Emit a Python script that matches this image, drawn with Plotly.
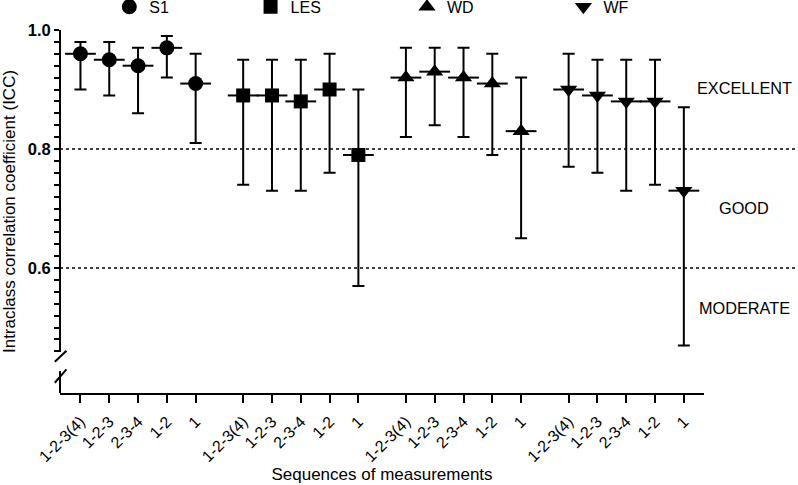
import plotly.graph_objects as go

# ---------------- data ----------------
categories = ["1-2-3(4)", "1-2-3", "2-3-4", "1-2", "1"]
groups = ["S1", "LES", "WD", "WF"]

S1_icc = [0.96, 0.95, 0.94, 0.97, 0.91]
S1_lo = [0.90, 0.89, 0.86, 0.92, 0.81]
S1_hi = [0.98, 0.98, 0.97, 0.99, 0.96]

LES_icc = [0.89, 0.89, 0.88, 0.90, 0.79]
LES_lo = [0.74, 0.73, 0.73, 0.76, 0.57]
LES_hi = [0.95, 0.95, 0.95, 0.96, 0.90]

WD_icc = [0.92, 0.93, 0.92, 0.91, 0.83]
WD_lo = [0.82, 0.84, 0.82, 0.79, 0.65]
WD_hi = [0.97, 0.97, 0.97, 0.96, 0.92]

WF_icc = [0.90, 0.89, 0.88, 0.88, 0.73]
WF_lo = [0.77, 0.76, 0.73, 0.74, 0.47]
WF_hi = [0.96, 0.95, 0.95, 0.95, 0.87]

thresholds = [0.8, 0.6]
zone_labels = ["EXCELLENT", "GOOD", "MODERATE"]
zone_label_y = [0.903, 0.701, 0.533]
y_tick_labels = {0.6: "0.6", 0.8: "0.8", 1.0: "1.0"}

# ---------------- layout helpers ----------------
FONT = "Arial, Liberation Sans, sans-serif"
GAP = 0.65
n = len(categories)
series = [
    ("S1", S1_icc, S1_lo, S1_hi, "circle", 15),
    ("LES", LES_icc, LES_lo, LES_hi, "square", 14),
    ("WD", WD_icc, WD_lo, WD_hi, "triangle-up", 15),
    ("WF", WF_icc, WF_lo, WF_hi, "triangle-down", 15),
]

fig = go.Figure()
all_x, all_text = [], []
legend_x = [0.137, 0.314, 0.510, 0.706]
for g, (name, icc, lo, hi, sym, size) in enumerate(series):
    xs = [g * (n + GAP) + i for i in range(n)]
    all_x += xs
    all_text += categories
    plus = [h - v for h, v in zip(hi, icc)]
    minus = [v - l for v, l in zip(icc, lo)]
    legend_id = "legend" if g == 0 else f"legend{g+1}"
    # mean line + error bars
    fig.add_trace(go.Scatter(
        x=xs, y=icc, mode="markers", showlegend=False, hoverinfo="skip",
        marker=dict(symbol="line-ew", size=22, line=dict(color="black", width=2)),
        error_y=dict(type="data", symmetric=False, array=plus, arrayminus=minus,
                     color="black", thickness=2, width=6),
    ))
    fig.add_trace(go.Scatter(
        x=xs, y=icc, mode="markers", name=name, legend=legend_id, showlegend=True,
        marker=dict(symbol=sym, size=size, color="black",
                    line=dict(color="black", width=0)),
    ))

# y ticks every 0.02 from 0.46 to 1.0
ytv = [round(0.46 + 0.02 * k, 2) for k in range(28)]
ytt = [y_tick_labels.get(v, "") for v in ytv]

X0 = -0.71
X1 = (len(series) - 1) * (n + GAP) + (n - 1) + 0.70
Y0, Y1 = 0.39, 1.0

shapes = []
for t in thresholds:
    shapes.append(dict(type="line", xref="paper", yref="y", x0=0, x1=1.146, y0=t, y1=t,
                       line=dict(color="black", width=1.5, dash="dot")))
# broken y axis
shapes.append(dict(type="line", xref="paper", yref="y", x0=0, x1=0, y0=1.0, y1=0.459,
                   line=dict(color="black", width=2)))
shapes.append(dict(type="line", xref="paper", yref="y", x0=-0.008, x1=0.010, y0=0.4425, y1=0.461,
                   line=dict(color="black", width=2)))
shapes.append(dict(type="line", xref="paper", yref="y", x0=-0.008, x1=0.010, y0=0.4072, y1=0.4297,
                   line=dict(color="black", width=2)))
shapes.append(dict(type="line", xref="paper", yref="y", x0=0, x1=0, y0=0.4269, y1=Y0,
                   line=dict(color="black", width=2)))

annotations = []
for lab, yy in zip(zone_labels, zone_label_y):
    annotations.append(dict(text=lab, xref="paper", yref="y", x=1.0625, y=yy,
                            showarrow=False, xanchor="center", yanchor="middle",
                            font=dict(family=FONT, size=16.3, color="black")))

fig.update_layout(
    width=798, height=485,
    margin=dict(l=60, r=94, t=30, b=92, autoexpand=False),
    plot_bgcolor="white", paper_bgcolor="white",
    font=dict(family=FONT, color="black"),
    showlegend=True,
    shapes=shapes, annotations=annotations,
    xaxis=dict(range=[X0, X1], tickmode="array", tickvals=all_x, ticktext=all_text,
               tickangle=-45, ticks="outside", ticklen=8, tickwidth=2, tickcolor="black",
               ticklabelstandoff=3,
               showline=True, linecolor="black", linewidth=2, showgrid=False, zeroline=False,
               tickfont=dict(family=FONT, size=16, color="black"),
               title=dict(text="Sequences of measurements", standoff=0,
                          font=dict(family=FONT, size=17, color="black"))),
    yaxis=dict(range=[Y0, Y1], tickmode="array", tickvals=ytv, ticktext=ytt,
               ticks="outside", ticklen=5, tickwidth=2, tickcolor="black",
               showline=False, showgrid=False, zeroline=False,
               tickfont=dict(family=FONT, size=16.5, color="black", weight="bold"),
               title=dict(text="Intraclass correlation coefficient (ICC)", standoff=10,
                          font=dict(family=FONT, size=17, color="black"))),
)
for k in range(4):
    key = "legend" if k == 0 else f"legend{k+1}"
    fig.update_layout({key: dict(xref="container", yref="container", x=legend_x[k], y=0.986,
                                 xanchor="left", yanchor="middle", orientation="h",
                                 font=dict(family=FONT, size=16, color="black"),
                                 bgcolor="rgba(0,0,0,0)", borderwidth=0,
                                 tracegroupgap=0, itemclick=False)})

fig.write_html("out.html", config={"displayModeBar": False},
               post_script="document.body.style.margin='0px';")
